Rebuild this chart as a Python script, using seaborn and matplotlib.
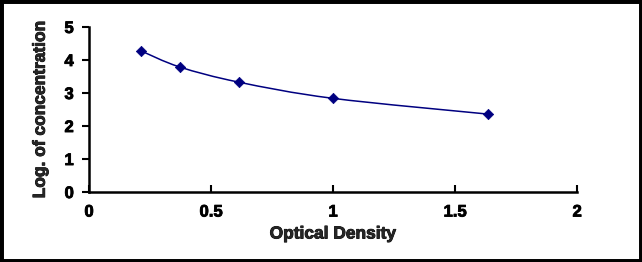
import numpy as np
import pandas as pd
import matplotlib
matplotlib.use('Agg')
import matplotlib.pyplot as plt
import matplotlib.patheffects as pe
from matplotlib.path import Path
from matplotlib.patches import PathPatch, Rectangle
import seaborn as sns

# standard curve values
od = [0.215, 0.371, 0.613, 0.998, 1.636]
log_conc = [4.27, 3.79, 3.33, 2.84, 2.36]
x_ticks = [0, 0.5, 1, 1.5, 2]
x_tick_labels = ['0', '0.5', '1', '1.5', '2']
y_ticks = [0, 1, 2, 3, 4, 5]

df = pd.DataFrame({'od': od, 'log_conc': log_conc})

sns.set_style('white')
plt.rcParams['font.family'] = ['Liberation Sans', 'DejaVu Sans']
plt.rcParams['font.weight'] = 'bold'

navy = '#000080'
heavy = [pe.withStroke(linewidth=0.6, foreground='black')]

fig = plt.figure(figsize=(6.42, 2.62), dpi=100)
ax = fig.add_axes([0.1386, 0.267, 0.7604, 0.630])

# smoothed line through the points (excel style bezier smoothing)
pts = np.column_stack([od, log_conc])
verts = [pts[0]]
codes = [Path.MOVETO]
n = len(pts)
for i in range(n - 1):
    p0 = pts[i - 1] if i > 0 else pts[i]
    p1 = pts[i]
    p2 = pts[i + 1]
    p3 = pts[i + 2] if i + 2 < n else pts[i + 1]
    c1 = p1 + (p2 - p0) / 6.0
    c2 = p2 - (p3 - p1) / 6.0
    verts += [c1, c2, p2]
    codes += [Path.CURVE4] * 3
ax.add_patch(PathPatch(Path(verts, codes), facecolor='none', edgecolor=navy, lw=1.1, zorder=2))

sns.scatterplot(data=df, x='od', y='log_conc', marker='D', s=28, color=navy,
                edgecolor=navy, linewidth=0.5, ax=ax, zorder=3)

ax.set_xlim(0, 2)
ax.set_ylim(0, 5)
ax.set_xticks(x_ticks)
ax.set_xticklabels(x_tick_labels)
ax.set_yticks(y_ticks)
ax.set_xlabel('Optical Density', fontsize=12.5, fontweight='bold', labelpad=5,
              path_effects=heavy)
ax.set_ylabel('Log. of concentration', fontsize=12.5, fontweight='bold', labelpad=12,
              path_effects=heavy)

sns.despine(ax=ax)
for side in ['left', 'bottom']:
    ax.spines[side].set_linewidth(1.8)
    ax.spines[side].set_color('black')
ax.tick_params(axis='x', bottom=True, direction='in', length=5, width=1.5,
               labelsize=12, pad=9, colors='black')
ax.tick_params(axis='y', left=True, direction='out', length=5, width=1.5,
               labelsize=12, pad=6, colors='black')
for lbl in ax.get_xticklabels() + ax.get_yticklabels():
    lbl.set_fontweight('bold')
    lbl.set_path_effects(heavy)

# black frame around the whole picture
fig.patches.append(Rectangle((0, 0), 1, 1, transform=fig.transFigure, fill=False,
                             edgecolor='black', linewidth=5, figure=fig))

fig.savefig('out.png', dpi=100)
